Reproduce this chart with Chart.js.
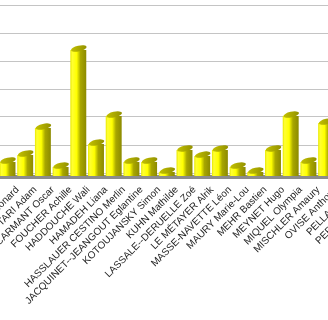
<!DOCTYPE html>
<html>
<head>
<meta charset="utf-8">
<script src="https://cdn.jsdelivr.net/npm/chart.js@4"></script>
<style>
  html, body { margin: 0; padding: 0; background: #fff; overflow: hidden; }
  #wrap { position: relative; width: 328px; height: 320px; overflow: hidden; }
  #chart { position: absolute; left: -20px; top: 0; }
</style>
</head>
<body>
<div id="wrap"><canvas id="chart" width="400" height="320"></canvas></div>
<script>
// students (only part of the chart is visible in the picture)
const names = [
  'Léonard', 'BOTTARI Adam', 'CARMANT Oscar', 'FOUCHER Achille', 'HADDOUCHE Wali',
  'HAMADEH Liana', 'HASSLAUER CESTINO Merlin', 'JACQUINET--JEANGOUT Eglantine',
  'KOTOUJANSKY Simon', 'KUHN Mathilde', 'LASSALE--DERUELLE Zoé', 'LE MÉTAYER Alrik',
  'MASSE-NAVETTE Léon', 'MAURY Marie-Lou', 'MEHR Bastien', 'MEYNET Hugo',
  'MIQUEL Olympia', 'MISCHLER Amaury', 'OVISE Anthony', 'PELLAN Jules', 'PERRET Camille'
]
const scores = [
  0.5, 0.75, 1.71, 0.32, 4.5,
  1.14, 2.14, 0.5,
  0.5, 0.14, 0.93, 0.71,
  0.93, 0.32, 0.14, 0.93,
  2.14, 0.5, 1.89, 1.0, 1.0
]
// back-wall grid lines sit a little above the bar bottoms (3d depth)
const gridSteps = [0, 1, 2, 3, 4, 5, 6]
const wallShift = 3 / 28

function barFill(c) {
  const x = c.chart.scales.x
  if (!x || !x.width) return '#ffff00'
  const cx = x.getPixelForValue(c.dataIndex)
  const w = x.width / names.length * 0.9
  if (!isFinite(cx) || !isFinite(w)) return '#ffff00'
  const g = c.chart.ctx.createLinearGradient(cx - w / 2, 0, cx + w / 2, 0)
  g.addColorStop(0, '#e8e800')
  g.addColorStop(0.12, '#ffff33')
  g.addColorStop(0.4, '#ffff00')
  g.addColorStop(0.52, '#d2d200')
  g.addColorStop(0.64, '#a8a600')
  g.addColorStop(1, '#8c8a00')
  return g
}

const cylinders = {
  id: 'cylinders',
  beforeDatasetsDraw(chart) {
    const a = chart.chartArea
    const ctx = chart.ctx
    ctx.save()
    ctx.fillStyle = '#8c8c8c'
    ctx.fillRect(a.left, a.bottom - 1, a.right - a.left, 4)
    ctx.restore()
  },
  afterDatasetsDraw(chart) {
    const ctx = chart.ctx
    chart.getDatasetMeta(0).data.forEach(bar => {
      const { x, y, width } = bar.getProps(['x', 'y', 'width'], true)
      if (!isFinite(x) || !isFinite(width)) return
      const g = ctx.createLinearGradient(x - width / 2, 0, x + width / 2, 0)
      g.addColorStop(0, '#c4c200')
      g.addColorStop(0.5, '#acaa00')
      g.addColorStop(1, '#949200')
      ctx.save()
      ctx.beginPath()
      ctx.ellipse(x + 0.5, y - 1.5, width / 2, 2.8, -0.22, 0, Math.PI * 2)
      ctx.fillStyle = g
      ctx.fill()
      ctx.restore()
    })
  }
}

const chart = new Chart(document.getElementById('chart'), {
  type: 'bar',
  data: {
    labels: names,
    datasets: [{
      data: scores,
      backgroundColor: barFill,
      borderWidth: 0,
      categoryPercentage: 1,
      barPercentage: 0.9
    }]
  },
  options: {
    responsive: false,
    animation: false,
    layout: { padding: { left: 18.65, right: 9.65, top: 1, bottom: 0 } },
    plugins: { legend: { display: false }, tooltip: { enabled: false } },
    scales: {
      x: {
        grid: { display: false, drawTicks: false },
        border: { display: false },
        ticks: {
          autoSkip: false,
          minRotation: 45,
          maxRotation: 45,
          labelOffset: 10,
          padding: 8,
          color: '#1e1e1e',
          font: { family: 'Liberation Sans, Arial, sans-serif', size: 10 }
        },
        afterFit(s) { s.height = 144; s.paddingLeft = 0; s.paddingRight = 0 }
      },
      y: {
        min: 0,
        max: 6.25,
        ticks: { display: false },
        border: { display: false },
        grid: { color: '#c4c4c4', lineWidth: 1, drawTicks: false },
        afterBuildTicks(s) { s.ticks = gridSteps.map(v => ({ value: v + wallShift })) },
        afterFit(s) { s.width = 0 }
      }
    }
  },
  plugins: [cylinders]
})
chart.update()
</script>
</body>
</html>
